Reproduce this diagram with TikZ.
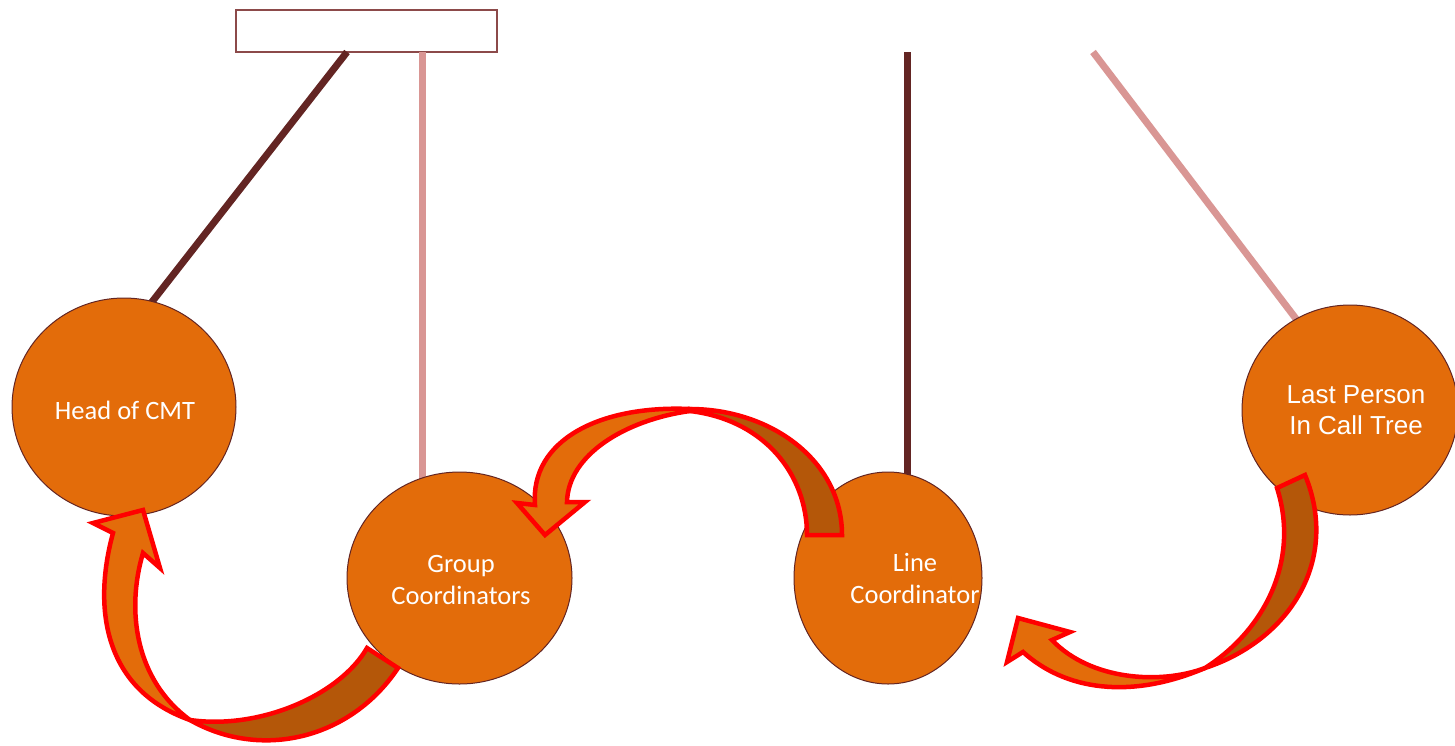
\documentclass[tikz,border=0pt]{standalone}
\usepackage{fontspec}
\setmainfont{Carlito}
\newfontfamily\arialfont{Liberation Sans}
\usetikzlibrary{shapes.geometric}
\definecolor{cmtorange}{HTML}{E36C0A}
\definecolor{cmtdark}{HTML}{B45709}
\definecolor{cmtbrown}{HTML}{632523}
\definecolor{cmtpink}{HTML}{D99694}
\definecolor{cmtframe}{HTML}{8C4A4A}
\definecolor{cmtred}{HTML}{FF0000}

\begin{document}
\begin{tikzpicture}[x=1pt,y=-1pt,
  person/.style={ellipse, draw=cmtbrown, line width=1pt, fill=cmtorange, inner sep=0pt},
  caption/.style={text=white, font=\fontsize{26.5}{32}\selectfont, align=center, inner sep=0pt},
  wiredark/.style={draw=cmtbrown, line width=7pt},
  wirepink/.style={draw=cmtpink, line width=7pt},
  bandfront/.style={fill=cmtorange, draw=cmtred, line width=4.5pt, line join=miter},
  bandback/.style={fill=cmtdark, draw=cmtred, line width=4.5pt, line join=miter}]
\useasboundingbox (0,0) rectangle (1455,745);

% title box
\node[draw=cmtframe, line width=1.2pt, fill=white, minimum width=261pt,
      minimum height=42pt, inner sep=0pt] (board) at (366.5,31) {};

% hanging wires
\coordinate (w1top) at (347,52);
\coordinate (w1end) at (148,307);
\coordinate (w2top) at (422,52);
\coordinate (w2end) at (422,485);
\coordinate (w3top) at (907,52);
\coordinate (w3end) at (907,482);
\coordinate (w4top) at (1093,52);
\coordinate (w4end) at (1303,328);
\draw[wiredark] (w1top) -- (w1end);
\draw[wirepink] (w2top) -- (w2end);
\draw[wiredark] (w3top) -- (w3end);
\draw[wirepink] (w4top) -- (w4end);

% people in the call tree
\node[person, minimum width=224pt, minimum height=218pt] (head) at (124,407) {};
\node[person, minimum width=225pt, minimum height=212pt] (group) at (459.5,578) {};
\node[person, minimum width=188pt, minimum height=212pt] (line) at (888,578) {};
\node[person, minimum width=216pt, minimum height=210pt] (last) at (1350,410) {};

\node[caption] (headt) at (125,410) {Head of CMT};
\node[caption] (groupt) at (461,580) {Group\\Coordinators};
\node[caption] (linet) at (915,578) {Line\\Coordinator};
\node[caption, font=\arialfont\fontsize{26}{31}\selectfont] (lastt) at (1356,410) {Last Person\\In Call Tree};

% curved arrow: Group Coordinators -> Head of CMT
\path[bandback] (190,720) .. controls (260,760) and (350,740) .. (398,668)
  -- (367,648) .. controls (340,695) and (260,730) .. (190,720) -- cycle;
\path[bandfront] (190,720) .. controls (105,690) and (92,610) .. (113,533)
  -- (93,523) -- (143,510) -- (160,568) -- (143,553)
  .. controls (126,610) and (135,680) .. (190,720) -- cycle;

% curved arrow: Line Coordinator -> Group Coordinators
\path[bandback] (690,409) .. controls (770,409) and (842,460) .. (842,535)
  -- (807,535) .. controls (807,475) and (765,420) .. (690,411) -- cycle;
\path[bandfront] (690,409) .. controls (600,405) and (530,440) .. (535,505)
  -- (517,503) -- (545,535) -- (585,502) -- (567,502)
  .. controls (568,455) and (625,420) .. (690,411) -- cycle;

% curved arrow: Last Person -> Line Coordinator
\path[bandback] (1305,475) .. controls (1340,560) and (1290,640) .. (1205,668)
  .. controls (1265,630) and (1300,560) .. (1277,488) -- cycle;
\path[bandfront] (1205,668) .. controls (1130,700) and (1065,690) .. (1023,652)
  -- (1007,662) -- (1018,618) -- (1070,632) -- (1052,640)
  .. controls (1090,680) and (1160,685) .. (1205,668) -- cycle;
\end{tikzpicture}
\end{document}
